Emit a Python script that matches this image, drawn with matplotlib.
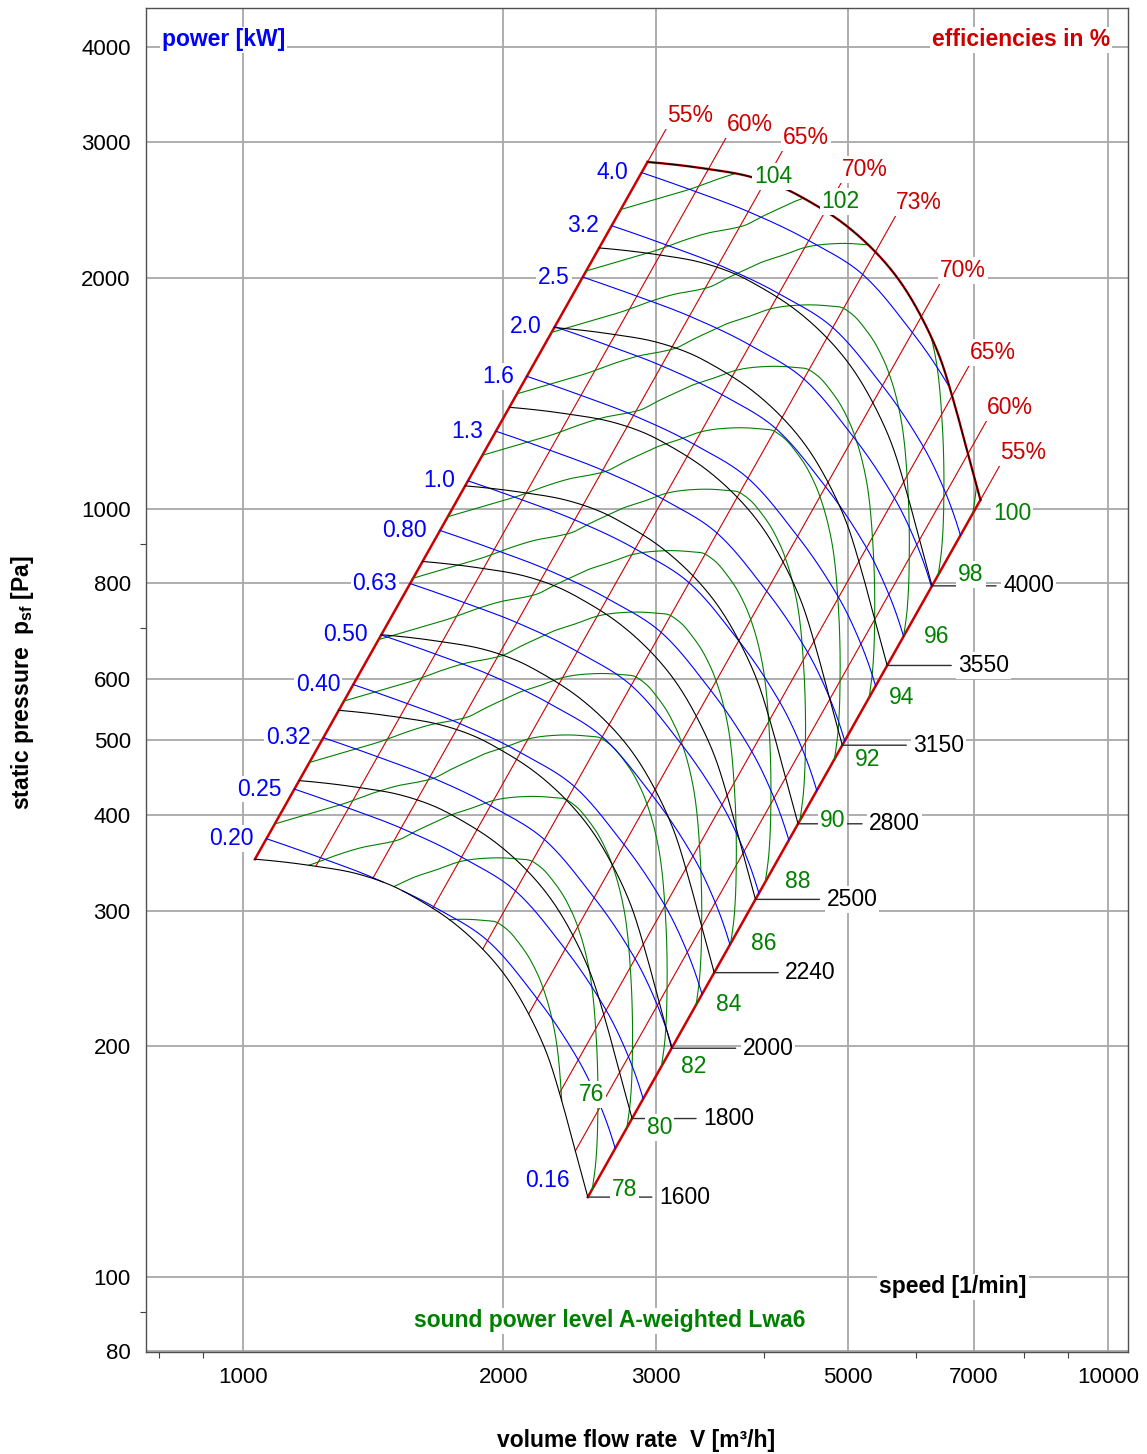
import numpy as np
import matplotlib
matplotlib.use("Agg")
import matplotlib.pyplot as plt
from matplotlib.ticker import NullFormatter, FixedLocator

plt.rcParams['font.family'] = ['Liberation Sans', 'DejaVu Sans']
plt.rcParams['mathtext.fontset'] = 'custom'
plt.rcParams['mathtext.rm'] = 'Liberation Sans'
plt.rcParams['mathtext.bf'] = 'Liberation Sans:bold'
plt.rcParams['mathtext.it'] = 'Liberation Sans:italic'

# ---------------- data ----------------
base_speed = 4000                      # 1/min, reference fan curve
curve_flow = [2580, 2802, 3026, 3287, 3467, 3705, 3960, 4324, 4733, 5059, 5364, 5627, 5841, 6047, 6260]   # m3/h
curve_pressure = [2187, 2167, 2142, 2110, 2078, 2023, 1946, 1827, 1670, 1526, 1366, 1212, 1059, 917, 794]  # Pa
speeds = [1600, 1800, 2000, 2240, 2500, 2800, 3150, 3550, 4000]
speed_labels = ["1600", "1800", "2000", "2240", "2500", "2800", "3150", "3550", "4000"]
max_speed = 4550

# efficiency (system) lines: flow where the line crosses 1000 Pa
eff_flow_at_1000Pa = [1745, 2074, 2458, 3015, 3662, 4560, 5574, 6342, 7025]
eff_values = [55, 60, 65, 70, 73, 70, 65, 60, 55]
eff_label_pressure = [3134, 3051, 2934, 2666, 2414, 1969, 1540, 1306, 1141]

# shaft power lines (kW)
power_levels = [0.16, 0.2, 0.25, 0.315, 0.4, 0.5, 0.63, 0.8, 1.0, 1.25, 1.6, 2.0, 2.5, 3.15, 4.0]
power_labels = ["0.16", "0.20", "0.25", "0.32", "0.40", "0.50", "0.63", "0.80", "1.0", "1.3",
                "1.6", "2.0", "2.5", "3.2", "4.0"]

# sound power level at base speed along the fan curve (position = flow at 1000 Pa on the system line)
sound_flow_at_1000Pa = [1745, 1895, 2041, 2147, 2276, 2407, 2486, 2567, 2671, 2735, 2877, 3018, 3243,
                        3494, 3673, 3890, 4121, 4405, 4646, 4966, 5251, 5568, 5934, 6260, 6799, 7025]
sound_at_base_speed = [100.75, 100.3, 99.87, 99.5, 99.12, 98.82, 98.6, 98.2, 97.72, 97.42, 96.9, 96.38,
                       95.82, 95.32, 95.03, 94.95, 94.95, 95.0, 95.1, 95.3, 95.52, 95.8, 96.15, 96.5,
                       97.2, 97.64]
sound_levels = [76, 78, 80, 82, 84, 86, 88, 90, 92, 94, 96, 98, 100, 102]
sound_top_labels = {102: "104", 100: "102"}
sound_speed_exponent = 50.0

x_ticks = [1000, 2000, 3000, 5000, 7000, 10000]
y_ticks = [80, 100, 200, 300, 400, 500, 600, 800, 1000, 2000, 3000, 4000]

# ---------------- colours / styles ----------------
BLUE = '#0000ff'
RED = '#cc0000'
GREEN = '#008000'
GRID = '#a8a8a8'
FS = 16.5
LW = 0.8


def pchip(xk, yk, x):
    xk = np.asarray(xk, float)
    yk = np.asarray(yk, float)
    x = np.asarray(x, float)
    h = np.diff(xk)
    delta = np.diff(yk) / h
    n = len(xk)
    d = np.zeros(n)
    for k in range(1, n - 1):
        if delta[k - 1] * delta[k] <= 0:
            d[k] = 0.0
        else:
            w1 = 2 * h[k] + h[k - 1]
            w2 = h[k] + 2 * h[k - 1]
            d[k] = (w1 + w2) / (w1 / delta[k - 1] + w2 / delta[k])

    def endslope(h0, h1, d0, d1):
        m = ((2 * h0 + h1) * d0 - h0 * d1) / (h0 + h1)
        if np.sign(m) != np.sign(d0):
            m = 0.0
        elif np.sign(d0) != np.sign(d1) and abs(m) > abs(3 * d0):
            m = 3 * d0
        return m
    d[0] = endslope(h[0], h[1], delta[0], delta[1])
    d[-1] = endslope(h[-1], h[-2], delta[-1], delta[-2])
    idx = np.clip(np.searchsorted(xk, x) - 1, 0, n - 2)
    t = (x - xk[idx]) / h[idx]
    h00 = 2 * t**3 - 3 * t**2 + 1
    h10 = t**3 - 2 * t**2 + t
    h01 = -2 * t**3 + 3 * t**2
    h11 = t**3 - t**2
    return h00 * yk[idx] + h10 * h[idx] * d[idx] + h01 * yk[idx + 1] + h11 * h[idx] * d[idx + 1]


# position parameter along the curve: log10 of the flow at 1000 Pa on the system parabola
lv0 = np.log10(curve_flow)
lp0 = np.log10(curve_pressure)
qk = lv0 - 0.5 * lp0 + 1.5
qL = np.log10(eff_flow_at_1000Pa[0])
qR = np.log10(eff_flow_at_1000Pa[-1])
N = 3000
q = np.linspace(qL, qR, N)
LV = pchip(qk, lv0, q)
LP = pchip(qk, lp0, q)
ETA = pchip(np.log10(eff_flow_at_1000Pa), eff_values, q)
P0 = 10**LV * 10**LP / (3600.0 * ETA / 100.0) / 1000.0
L0 = pchip(np.log10(sound_flow_at_1000Pa), sound_at_base_speed, q)

s_lo = np.log10(speeds[0] / base_speed)
s_hi = np.log10(max_speed / base_speed)


def runs(s):
    ok = (s >= s_lo - 1e-12) & (s <= s_hi + 1e-12)
    out = []
    i = 0
    while i < N:
        if ok[i]:
            j = i
            while j + 1 < N and ok[j + 1]:
                j += 1
            out.append((i, j))
            i = j + 1
        else:
            i += 1
    return out


def seg_points(s, i, j):
    lv = list(LV[i:j + 1]); lp = list(LP[i:j + 1]); ss = list(s[i:j + 1])
    start_on = 'left' if i == 0 else None
    end_on = 'right' if j == N - 1 else None
    if i > 0:
        b = s_lo if s[i - 1] < s_lo else s_hi
        f = (b - s[i - 1]) / (s[i] - s[i - 1])
        lv.insert(0, LV[i - 1] + f * (LV[i] - LV[i - 1]))
        lp.insert(0, LP[i - 1] + f * (LP[i] - LP[i - 1]))
        ss.insert(0, b)
        start_on = 'low' if b == s_lo else 'high'
    if j < N - 1:
        b = s_lo if s[j + 1] < s_lo else s_hi
        f = (b - s[j]) / (s[j + 1] - s[j])
        lv.append(LV[j] + f * (LV[j + 1] - LV[j]))
        lp.append(LP[j] + f * (LP[j + 1] - LP[j]))
        ss.append(b)
        end_on = 'low' if b == s_lo else 'high'
    lv = np.array(lv); lp = np.array(lp); ss = np.array(ss)
    return 10**(lv + ss), 10**(lp + 2 * ss), start_on, end_on


fig = plt.figure(figsize=(11.47, 14.54), dpi=100)
ax = fig.add_axes([146 / 1147, (1454 - 1352) / 1454, (1128 - 146) / 1147, (1352 - 8) / 1454])
ax.set_xscale('log')
ax.set_yscale('log')
ax.set_xlim(772.4, 10547)
ax.set_ylim(79.85, 4490)

ax.xaxis.set_major_locator(FixedLocator(x_ticks))
ax.set_xticklabels([str(v) for v in x_ticks])
ax.yaxis.set_major_locator(FixedLocator(y_ticks))
ax.set_yticklabels([str(v) for v in y_ticks])
ax.xaxis.set_minor_formatter(NullFormatter())
ax.yaxis.set_minor_formatter(NullFormatter())
ax.tick_params(which='major', length=0, labelsize=16, pad=11)
ax.tick_params(which='minor', length=4, width=0.8, color='#404040', direction='out')
ax.grid(True, which='major', color=GRID, lw=1.3, zorder=0)
ax.set_axisbelow(True)
for sp in ax.spines.values():
    sp.set_color('#505050')
    sp.set_linewidth(1.0)

lbl_box = dict(boxstyle='square,pad=0.08', fc='white', ec='none')

# ---- efficiency lines ----
for k, (fq, ev, ptop) in enumerate(zip(eff_flow_at_1000Pa, eff_values, eff_label_pressure)):
    qq = np.log10(fq)
    lvk = pchip(qk, lv0, qq)
    lpk = pchip(qk, lp0, qq)
    s_top = 0.5 * (np.log10(ptop) - lpk)
    Vb = 10**(lvk + s_lo); pb = 10**(lpk + 2 * s_lo)
    Ve = 10**(lvk + s_hi); pe = 10**(lpk + 2 * s_hi)
    Vt = 10**(lvk + s_top); pt = 10**(lpk + 2 * s_top)
    if k == 0 or k == len(eff_values) - 1:
        ax.plot([Vb, Ve], [pb, pe], color=RED, lw=1.8, zorder=3)
        ax.plot([Ve, Vt], [pe, pt], color=RED, lw=LW, zorder=3)
    else:
        ax.plot([Vb, Vt], [pb, pt], color=RED, lw=LW, zorder=3)
    ax.annotate(f"{ev}%", xy=(Vt, pt), xytext=(0, 1), textcoords='offset pixels',
                ha='left', va='bottom', color=RED, fontsize=FS, bbox=lbl_box, zorder=10)

# ---- sound power lines ----
for L in sound_levels:
    s = (L - L0) / sound_speed_exponent
    rr = runs(s)
    for ri, (i, j) in enumerate(rr):
        V, p, so, eo = seg_points(s, i, j)
        ax.plot(V, p, color=GREEN, lw=LW, zorder=4)
        if L in sound_top_labels and ri == 0 and eo == 'high':
            ax.annotate(sound_top_labels[L], xy=(V[-1], p[-1]), xytext=(18, -3),
                        textcoords='offset pixels', ha='left', va='center', color=GREEN,
                        fontsize=FS, bbox=lbl_box, zorder=11)
        elif ri == len(rr) - 1 and eo == 'right':
            ax.annotate(str(L), xy=(V[-1], p[-1]), xytext=(20, 0),
                        textcoords='offset pixels', ha='left', va='center', color=GREEN,
                        fontsize=FS, bbox=lbl_box, zorder=11)
        elif ri == len(rr) - 1 and eo == 'low':
            ax.annotate(str(L), xy=(V[-1], p[-1]), xytext=(17, 6),
                        textcoords='offset pixels', ha='left', va='center', color=GREEN,
                        fontsize=FS, bbox=lbl_box, zorder=11)

# ---- power lines ----
corner_V = 10**(LV[-1] + s_lo)
corner_p = 10**(LP[-1] + 2 * s_lo)
for P, lab in zip(power_levels, power_labels):
    s = np.log10(P / P0) / 3.0
    rr = runs(s)
    if not rr:
        ax.annotate(lab, xy=(corner_V, corner_p), xytext=(-18, 17), textcoords='offset pixels',
                    ha='right', va='center', color=BLUE, fontsize=FS, bbox=lbl_box, zorder=11)
        continue
    for ri, (i, j) in enumerate(rr):
        V, p, so, eo = seg_points(s, i, j)
        ax.plot(V, p, color=BLUE, lw=LW, zorder=5)
        if ri == 0:
            ax.annotate(lab, xy=(V[0], p[0]), xytext=(-13, 0), textcoords='offset pixels',
                        ha='right', va='center', color=BLUE, fontsize=FS, bbox=lbl_box, zorder=11)

# ---- speed curves ----
for n, lab in zip(speeds, speed_labels):
    s = np.log10(n / base_speed)
    V = 10**(LV + s); p = 10**(LP + 2 * s)
    ax.plot(V, p, color='black', lw=LW, zorder=6)
    ax.annotate('', xy=(V[-1], p[-1]), xytext=(64, 0), textcoords='offset pixels',
                arrowprops=dict(arrowstyle='-', color='#303030', lw=1.0, shrinkA=0, shrinkB=0),
                zorder=7)
    ax.annotate(lab, xy=(V[-1], p[-1]), xytext=(71, 0), textcoords='offset pixels',
                ha='left', va='center', color='black', fontsize=FS, bbox=lbl_box, zorder=12)

# envelope (maximum speed)
s = np.log10(max_speed / base_speed)
Vm = 10**(LV + s); pm = 10**(LP + 2 * s)
ax.plot(Vm, pm, color=RED, lw=1.7, zorder=6)
ax.plot(Vm, pm, color='black', lw=0.8, zorder=6)

# ---- corner captions ----
ax.text(0.0163, 0.9762, "power [kW]", transform=ax.transAxes, ha='left', va='center',
        color=BLUE, fontsize=FS, fontweight='bold', bbox=lbl_box, zorder=12)
ax.text(0.9817, 0.9762, "efficiencies in %", transform=ax.transAxes, ha='right', va='center',
        color=RED, fontsize=FS, fontweight='bold', bbox=lbl_box, zorder=12)
ax.text(0.8218, 0.0484, "speed [1/min]", transform=ax.transAxes, ha='center', va='center',
        color='black', fontsize=FS, fontweight='bold', bbox=lbl_box, zorder=12)
ax.text(0.4725, 0.0231, "sound power level A-weighted Lwa6", transform=ax.transAxes,
        ha='center', va='center', color=GREEN, fontsize=FS, fontweight='bold', bbox=lbl_box, zorder=12)

fig.text(22 / 1147, 1 - 683 / 1454, r"static pressure  p$_\mathbf{sf}$ [Pa]", rotation=90,
         ha='center', va='center', fontsize=FS, fontweight='bold')
fig.text(636 / 1147, 1 - 1440 / 1454, "volume flow rate  V [m³/h]", ha='center', va='center',
         fontsize=FS, fontweight='bold')

fig.savefig("out.png", dpi=100)
